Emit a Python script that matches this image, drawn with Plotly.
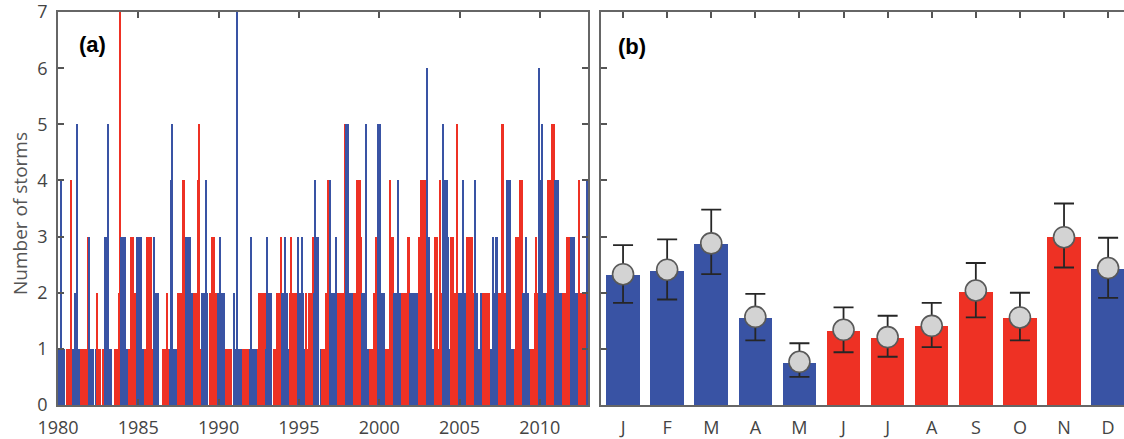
import plotly.graph_objects as go

# ---------------- Panel (a): monthly storm counts, Jan..Dec per year ----------------
start_year = 1980
s1980 = [1, 1, 4, 1, 1, 0, 1, 1, 1, 4, 1, 1]
s1981 = [2, 2, 5, 1, 0, 1, 1, 1, 1, 1, 3, 3]
s1982 = [1, 1, 1, 0, 1, 2, 1, 1, 0, 1, 1, 3]
s1983 = [3, 5, 1, 1, 0, 0, 1, 1, 1, 2, 7, 3]
s1984 = [3, 2, 3, 1, 1, 1, 3, 3, 3, 2, 2, 3]
s1985 = [3, 3, 3, 1, 1, 1, 3, 3, 3, 3, 1, 3]
s1986 = [2, 2, 2, 0, 0, 0, 1, 1, 1, 2, 1, 1]
s1987 = [4, 5, 1, 1, 1, 2, 2, 2, 2, 4, 4, 3]
s1988 = [3, 3, 3, 2, 2, 2, 1, 2, 4, 5, 1, 2]
s1989 = [2, 2, 4, 2, 0, 2, 2, 3, 3, 2, 2, 2]
s1990 = [2, 3, 2, 2, 2, 1, 1, 1, 1, 1, 0, 2]
s1991 = [1, 7, 1, 1, 1, 0, 1, 1, 0, 1, 1, 1]
s1992 = [3, 1, 1, 1, 1, 1, 2, 2, 2, 2, 2, 1]
s1993 = [3, 2, 2, 2, 0, 1, 1, 2, 2, 2, 3, 2]
s1994 = [2, 3, 2, 2, 1, 2, 3, 2, 2, 2, 2, 3]
s1995 = [2, 2, 3, 2, 1, 2, 1, 2, 1, 2, 3, 2]
s1996 = [4, 3, 3, 0, 1, 1, 1, 1, 2, 4, 1, 4]
s1997 = [2, 2, 2, 3, 2, 2, 2, 2, 2, 2, 5, 5]
s1998 = [5, 2, 2, 2, 2, 2, 2, 4, 4, 4, 3, 2]
s1999 = [2, 2, 5, 1, 1, 1, 1, 1, 2, 3, 3, 5]
s2000 = [5, 1, 2, 2, 1, 1, 1, 1, 4, 3, 3, 2]
s2001 = [2, 2, 4, 2, 2, 2, 2, 2, 2, 3, 3, 2]
s2002 = [2, 2, 2, 1, 2, 3, 3, 4, 4, 4, 4, 6]
s2003 = [3, 3, 2, 1, 1, 3, 3, 3, 1, 4, 2, 5]
s2004 = [3, 4, 4, 3, 1, 3, 3, 3, 2, 2, 5, 2]
s2005 = [2, 2, 4, 2, 2, 3, 3, 3, 3, 3, 2, 4]
s2006 = [2, 2, 1, 1, 2, 2, 2, 2, 2, 2, 2, 1]
s2007 = [1, 3, 2, 3, 3, 2, 2, 5, 5, 2, 2, 4]
s2008 = [4, 4, 1, 1, 1, 1, 3, 3, 3, 4, 4, 2]
s2009 = [2, 3, 2, 2, 1, 1, 1, 1, 2, 3, 2, 6]
s2010 = [4, 5, 2, 2, 2, 2, 4, 4, 4, 5, 5, 4]
s2011 = [4, 4, 2, 2, 2, 2, 2, 2, 3, 3, 3, 3]
s2012 = [3, 3, 2, 2, 2, 4, 2, 2, 2, 2, 2, 4]

monthly = [s1980, s1981, s1982, s1983, s1984, s1985, s1986, s1987, s1988, s1989,
           s1990, s1991, s1992, s1993, s1994, s1995, s1996, s1997, s1998, s1999,
           s2000, s2001, s2002, s2003, s2004, s2005, s2006, s2007, s2008, s2009,
           s2010, s2011, s2012]

year_ticks = [1980, 1985, 1990, 1995, 2000, 2005, 2010]
count_ticks = [0, 1, 2, 3, 4, 5, 6, 7]

# ---------------- Panel (b): monthly means with error bars ----------------
month_labels = ["J", "F", "M", "A", "M", "J", "J", "A", "S", "O", "N", "D"]
mean_bar = [2.31, 2.39, 2.86, 1.55, 0.75, 1.31, 1.20, 1.40, 2.01, 1.55, 2.99, 2.43]
mean_pt = [2.33, 2.41, 2.88, 1.57, 0.77, 1.34, 1.21, 1.41, 2.04, 1.56, 2.99, 2.44]
err_hi = [2.85, 2.95, 3.48, 1.98, 1.10, 1.74, 1.59, 1.82, 2.53, 2.00, 3.59, 2.98]
err_lo = [1.82, 1.88, 2.33, 1.15, 0.50, 0.94, 0.86, 1.03, 1.56, 1.15, 2.45, 1.91]
winter_months = [0, 1, 2, 3, 4, 11]

BLUE = "#3953a4"
RED = "#ee3124"
W, H = 1124, 439

xs, ys, cs = [], [], []
for i, vals in enumerate(monthly):
    for m, v in enumerate(vals):
        xs.append(start_year + i + (m + 0.5) / 12)
        ys.append(v)
        cs.append(BLUE if m in winter_months else RED)

mx = list(range(1, 13))
mcol = [BLUE if m in winter_months else RED for m in range(12)]

fig = go.Figure()
fig.add_trace(go.Bar(x=xs, y=ys, width=1 / 12, marker=dict(color=cs, line=dict(width=0)),
                     xaxis="x", yaxis="y", showlegend=False))
fig.add_trace(go.Bar(x=mx, y=mean_bar, width=0.76, marker=dict(color=mcol, line=dict(width=0)),
                     xaxis="x2", yaxis="y2", showlegend=False))
fig.add_trace(go.Scatter(
    x=mx, y=mean_pt, mode="markers", xaxis="x2", yaxis="y2", showlegend=False,
    marker=dict(size=21, color="#d3d3d3", line=dict(color="#595959", width=1.6)),
    error_y=dict(type="data", symmetric=False,
                 array=[h - p for h, p in zip(err_hi, mean_pt)],
                 arrayminus=[p - l for p, l in zip(mean_pt, err_lo)],
                 color="#262626", thickness=1.8, width=10)))

tickfont = dict(family="Open Sans", size=18, color="#444444")
ydom = [34 / H, 427 / H]
axis_common = dict(showline=True, linecolor="#666666", linewidth=1.5, ticks="inside",
                   ticklen=6, tickwidth=1.5, tickcolor="#555555", showgrid=False,
                   zeroline=False, automargin=False, tickfont=tickfont,
                   ticklabeloverflow="allow")

fig.update_layout(
    width=W, height=H, margin=dict(l=0, r=0, t=0, b=0),
    template="none", paper_bgcolor="white", plot_bgcolor="white",
    bargap=0,
    xaxis=dict(domain=[58 / W, 588 / W], range=[1980, 2013], tickvals=year_ticks,
               mirror="ticks", anchor="y", ticklabelstandoff=6, **axis_common),
    yaxis=dict(domain=ydom, range=[0, 7.002], tickvals=count_ticks, mirror="ticks",
               anchor="x", ticklabelstandoff=5, **axis_common),
    xaxis2=dict(domain=[601 / W, 1.0], range=[0.5, 12.36], tickvals=mx,
                ticktext=month_labels, mirror="ticks", anchor="y2", layer="below traces",
                ticklabelstandoff=6, **axis_common),
    yaxis2=dict(domain=ydom, range=[0, 7.002], tickvals=count_ticks, showticklabels=False,
                anchor="x2", **axis_common),
    annotations=[
        dict(text="<b>(a)</b>", x=77 / W, y=1 - 44 / H, xref="paper", yref="paper",
             xanchor="left", yanchor="middle", showarrow=False,
             font=dict(family="Liberation Sans", size=22, color="black")),
        dict(text="<b>(b)</b>", x=616 / W, y=1 - 46 / H, xref="paper", yref="paper",
             xanchor="left", yanchor="middle", showarrow=False,
             font=dict(family="Liberation Sans", size=22, color="black")),
        dict(text="Number of storms", x=20 / W, y=1 - 214 / H, xref="paper", yref="paper",
             xanchor="center", yanchor="middle", showarrow=False, textangle=-90,
             font=dict(family="Open Sans", size=19, color="#555555")),
    ],
)

fig.write_html("out.html")
